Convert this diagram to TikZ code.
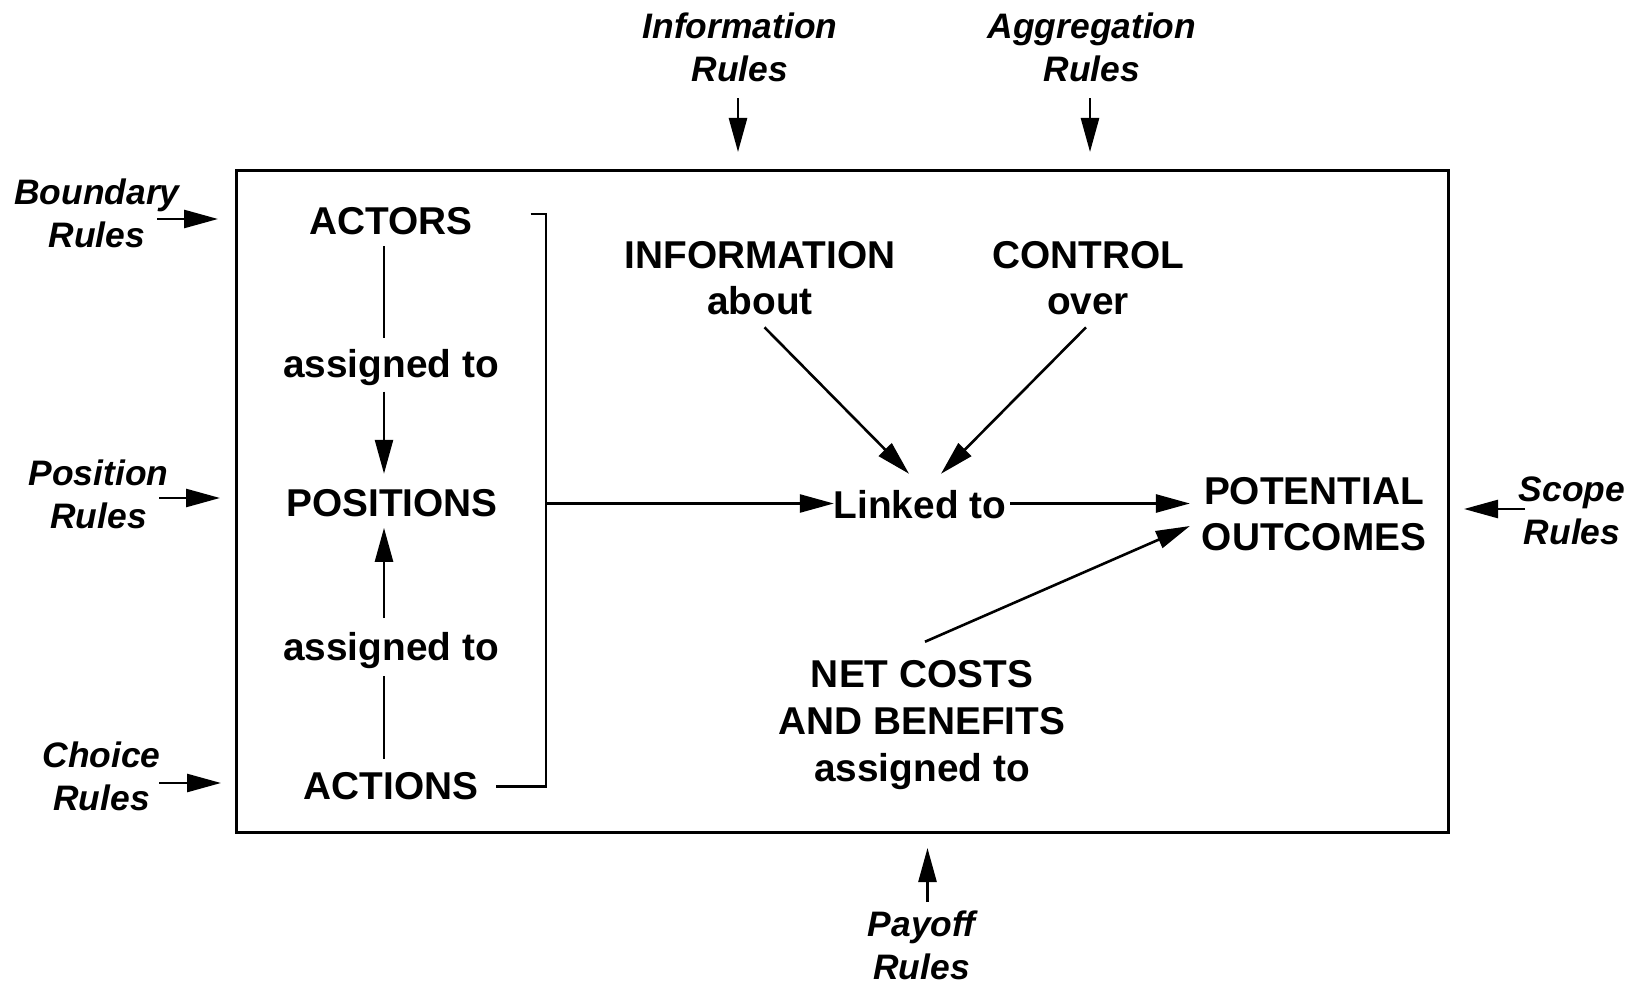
\documentclass[tikz,border=0pt]{standalone}
\usepackage{fontspec}
\setmainfont{Liberation Sans}
\usetikzlibrary{arrows.meta}
\begin{document}
\begin{tikzpicture}[x=0.5pt,y=-0.5pt,
  mainlbl/.style={font=\bfseries\fontsize{19.4}{23.3}\selectfont, align=center, inner sep=0pt, outer sep=0pt},
  rulelbl/.style={font=\bfseries\itshape\fontsize{17.7}{21.5}\selectfont, align=center, inner sep=0pt, outer sep=0pt},
  arr/.style={line width=1.3pt, -{Triangle[length=17pt,width=9pt]}},
  ln/.style={line width=1.3pt}]
\useasboundingbox (0,0) rectangle (1640,984);
% frame
\node[draw, line width=1.5pt, inner sep=0pt, outer sep=0pt, minimum width=606pt, minimum height=330.5pt] (frame) at (842,501.5) {};
% rule labels
\node[rulelbl] (infoR)   at (740,47)     {Information\\Rules};
\node[rulelbl] (aggR)    at (1092,47)    {Aggregation\\Rules};
\node[rulelbl] (boundR)  at (97,213)     {Boundary\\Rules};
\node[rulelbl] (posR)    at (98.5,494.5) {Position\\Rules};
\node[rulelbl] (choiceR) at (101.5,776.5){Choice\\Rules};
\node[rulelbl] (scopeR)  at (1572,511)   {Scope\\Rules};
\node[rulelbl] (payoffR) at (921.5,945)  {Payoff\\Rules};
% main nodes
\node[mainlbl] (actors)    at (391,221.5) {ACTORS};
\node[mainlbl] (asgA)      at (391,367.5) {assigned to};
\node[mainlbl] (positions) at (392,503.5) {POSITIONS};
\node[mainlbl] (asgB)      at (391,651)   {assigned to};
\node[mainlbl] (actions)   at (391,786.3) {ACTIONS};
\node[mainlbl] (info)      at (760,278.3) {INFORMATION\\about};
\node[mainlbl] (control)   at (1088,278.3){CONTROL\\over};
\node[mainlbl] (linked)    at (920,505)   {Linked to};
\node[mainlbl] (outcomes)  at (1314,514)  {POTENTIAL\\OUTCOMES};
\node[mainlbl] (netcost)   at (922,725)   {NET COSTS\\AND BENEFITS\\assigned to};
% helper coordinates
\coordinate (vx) at (384,0);
\coordinate (brTop) at (546,214);
\coordinate (bS) at ([shift={(60,6)}]boundR.center);
\coordinate (pS) at ([shift={(60.5,3.5)}]posR.center);
\coordinate (cS) at ([shift={(57.5,6.5)}]choiceR.center);
\coordinate (sS) at ([shift={(-47,-2)}]scopeR.center);
\coordinate (iS) at ([shift={(-2,17)}]infoR.south);
\coordinate (aS) at ([shift={(-2,17)}]aggR.south);
\coordinate (yS) at ([shift={(6,-8.5)}]payoffR.north);
% rule arrows
\draw[arr, shorten >=9.5pt] (iS) -- (iS |- frame.north);
\draw[arr, shorten >=9.5pt] (aS) -- (aS |- frame.north);
\draw[arr, shorten >=9pt] (bS) -- (bS -| frame.west);
\draw[arr, shorten >=8pt] (pS) -- (pS -| frame.west);
\draw[arr, shorten >=7.5pt] (cS) -- (cS -| frame.west);
\draw[arr, shorten >=8pt] (sS) -- (sS -| frame.east);
\draw[arr, shorten >=8pt] (yS) -- (yS |- frame.south);
% left column
\draw[ln, shorten <=5.5pt, shorten >=5.5pt] (actors.south -| vx) -- (asgA.north -| vx);
\draw[arr, shorten <=3pt, shorten >=8pt] (asgA.south -| vx) -- (positions.north -| vx);
\draw[ln, shorten <=7pt, shorten >=3.5pt] (actions.north -| vx) -- (asgB.south -| vx);
\draw[arr, shorten <=7.3pt, shorten >=5.3pt] (asgB.north -| vx) -- (positions.south -| vx);
% bracket
\draw[ln] ([xshift=29pt]actors.east |- brTop) -- (brTop) -- (brTop |- actions.east) -- ([xshift=8.75pt]actions.east);
\draw[arr] (positions.east -| brTop) -- (linked.west |- positions.east);
% right part
\draw[arr, shorten <=2pt, shorten >=6pt] (linked.east |- positions.east) -- (outcomes.west |- positions.east);
\draw[arr] ([shift={(4.5,12)}]info.south) -- ([shift={(-11,-17)}]linked.north);
\draw[arr] ([shift={(-2,12)}]control.south) -- ([shift={(21,-17)}]linked.north);
\draw[arr] ([shift={(3,-19)}]netcost.north) -- ([shift={(-12,12)}]outcomes.west);
\end{tikzpicture}
\end{document}
